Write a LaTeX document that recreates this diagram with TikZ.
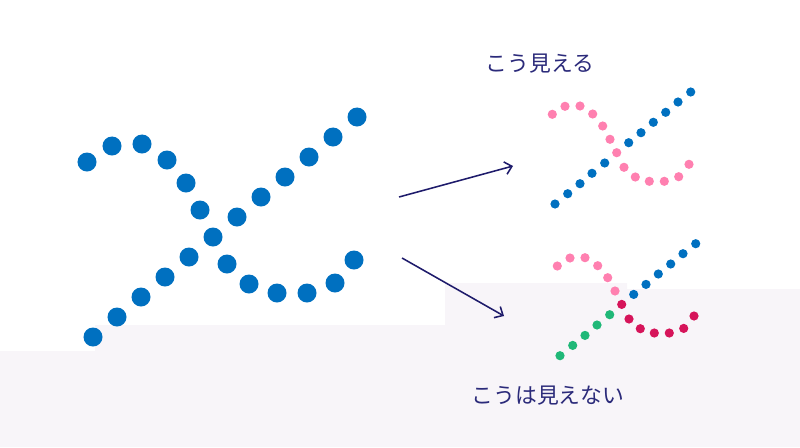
\documentclass[tikz,border=0pt]{standalone}
\usepackage{fontspec}
\newfontfamily\jpfont{Noto Sans CJK JP}
\usepackage{tikz}
\usetikzlibrary{arrows.meta}
\definecolor{dotblue}{RGB}{0,112,192}
\definecolor{dotpink}{RGB}{255,128,176}
\definecolor{dotred}{RGB}{214,20,90}
\definecolor{dotgreen}{RGB}{32,184,120}
\definecolor{arrcol}{RGB}{30,27,107}
\definecolor{txtcol}{RGB}{43,42,122}
\definecolor{bgcol}{RGB}{248,245,249}

\begin{document}
\begin{tikzpicture}[x=0.025cm,y=-0.025cm,
  bigdot/.style={circle,fill=dotblue,inner sep=0pt,minimum size=0.475cm},
  smalldot/.style={circle,fill=#1,inner sep=0pt,minimum size=0.23cm},
  lbl/.style={text=txtcol,font=\jpfont\fontsize{15.5pt}{18pt}\selectfont},
  arr/.style={arrcol,line width=1.1pt,-{Straight Barb[length=0.17cm,width=0.32cm]}}]
\useasboundingbox (0,0) rectangle (800,447);
\fill[bgcol] (0,351) -- (95,351) -- (95,325) -- (445,325) -- (445,283) -- (627,283)
  -- (627,289) -- (800,289) -- (800,447) -- (0,447) -- cycle;
% big figure
\foreach \x/\y [count=\i] in {87/162,112/146,142/144,167/160,186/183,200/210,213/237,
    227/264,249/284,277/293,307/293,335/283,354/260}
  \node[bigdot] (c\i) at (\x,\y) {};
\foreach \x/\y [count=\i] in {93/337,117/317,141/297,165/277,189/257,
    237/217,261/197,285/177,309/157,333/137,357/117}
  \node[bigdot] (l\i) at (\x,\y) {};
% arrows
\coordinate (u1) at (399,197); \coordinate (u2) at (513,166);
\coordinate (d1) at (402,258); \coordinate (d2) at (504,316);
\draw[arr] (u1) -- (u2);
\draw[arr] (d1) -- (d2);
% seen
\foreach \x/\y [count=\i] in {555/204,567.7/193.7,580/183.7,592/173.3,604.7/163,
    628.7/142.7,641/132.7,653.3/122.3,665.7/112.3,678/102,690.7/92}
  \node[smalldot=dotblue] (sl\i) at (\x,\y) {};
\foreach \x/\y [count=\i] in {552.3/114.3,565/106.3,580/106,592.7/114,602.7/126,610/139.3,
    616.7/152.7,624/167.3,635.3/177,649.3/181.3,664.3/181.3,678.7/176.7,689/164.3}
  \node[smalldot=dotpink] (sc\i) at (\x,\y) {};
\node[lbl] (seen) at (540,64) {こう見える};
% not seen
\begin{scope}[shift={(5,151.7)}]
\foreach \x/\y [count=\i] in {555/204,567.7/193.7,580/183.7,592/173.3,604.7/163}
  \node[smalldot=dotgreen] (ng\i) at (\x,\y) {};
\foreach \x/\y [count=\i] in {628.7/142.7,641/132.7,653.3/122.3,665.7/112.3,678/102,690.7/92}
  \node[smalldot=dotblue] (nb\i) at (\x,\y) {};
\foreach \x/\y [count=\i] in {552.3/114.3,565/106.3,580/106,592.7/114,602.7/126,610/139.3}
  \node[smalldot=dotpink] (np\i) at (\x,\y) {};
\foreach \x/\y [count=\i] in {616.7/152.7,624/167.3,635.3/177,649.3/181.3,664.3/181.3,
    678.7/176.7,689/164.3}
  \node[smalldot=dotred] (nr\i) at (\x,\y) {};
\end{scope}
\node[lbl] (unseen) at (548,396) {こうは見えない};
\end{tikzpicture}
\end{document}
